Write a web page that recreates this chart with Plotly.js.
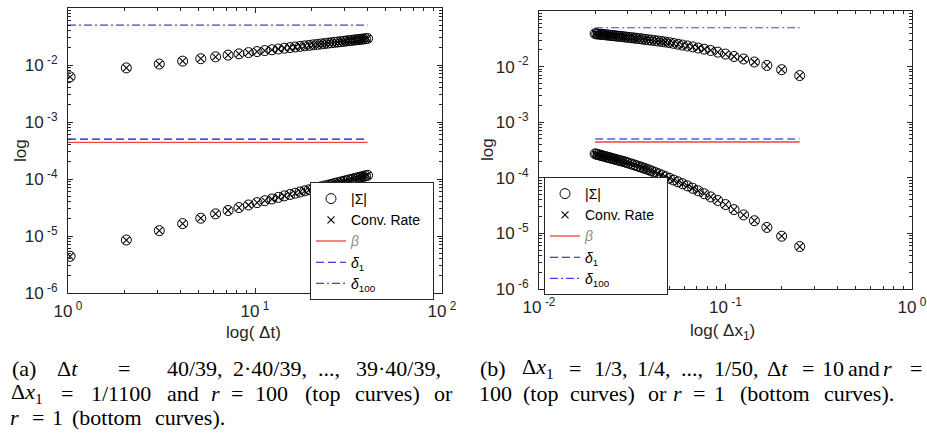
<!DOCTYPE html>
<html>
<head>
<meta charset="utf-8">
<script src="https://cdn.plot.ly/plotly-3.0.1.min.js"></script>
<style>body{margin:0;background:#fff}</style>
</head>
<body>
<div id="chart" style="width:927px;height:437px"></div>
<script>
// ---------------- data ----------------
// (a) Delta t = k*40/39, k = 1..39
const dtLeft = [1.026, 2.051, 3.077, 4.103, 5.128, 6.154, 7.179, 8.205, 9.231, 10.256,
  11.282, 12.308, 13.333, 14.359, 15.385, 16.41, 17.436, 18.462, 19.487, 20.513,
  21.538, 22.564, 23.59, 24.615, 25.641, 26.667, 27.692, 28.718, 29.744, 30.769,
  31.795, 32.821, 33.846, 34.872, 35.897, 36.923, 37.949, 38.974, 40.0];
const leftTop = [0.0062, 0.0089, 0.0104, 0.0117, 0.0129, 0.0139, 0.0149, 0.0157, 0.0165, 0.0172,
  0.0179, 0.0185, 0.0191, 0.0197, 0.0202, 0.0207, 0.0212, 0.0217, 0.0221, 0.0226,
  0.0230, 0.0234, 0.0238, 0.0242, 0.0246, 0.0250, 0.0253, 0.0257, 0.0260, 0.0264,
  0.0267, 0.0270, 0.0274, 0.0277, 0.0280, 0.0283, 0.0286, 0.0289, 0.0292];
const leftBottom = [4.4e-6, 8.5e-6, 1.24e-5, 1.65e-5, 2.05e-5, 2.45e-5, 2.8e-5, 3.15e-5, 3.5e-5, 3.85e-5,
  4.16e-5, 4.46e-5, 4.76e-5, 5.06e-5, 5.35e-5, 5.63e-5, 5.92e-5, 6.2e-5, 6.47e-5, 6.75e-5,
  7.02e-5, 7.29e-5, 7.56e-5, 7.82e-5, 8.09e-5, 8.35e-5, 8.61e-5, 8.86e-5, 9.12e-5, 9.37e-5,
  9.63e-5, 9.88e-5, 1.013e-4, 1.037e-4, 1.062e-4, 1.087e-4, 1.111e-4, 1.135e-4, 1.159e-4];
const leftLineX = [1, 40];

// (b) Delta x1 = 1/4 .. 1/50
const dxRight = [0.25, 0.2, 0.1667, 0.1429, 0.125, 0.1111, 0.1, 0.0909, 0.0833, 0.0769,
  0.0714, 0.0667, 0.0625, 0.0588, 0.0556, 0.0526, 0.05, 0.0476, 0.0455, 0.0435,
  0.0417, 0.04, 0.0385, 0.037, 0.0357, 0.0345, 0.0333, 0.0323, 0.0313, 0.0303,
  0.0294, 0.0286, 0.0278, 0.027, 0.0263, 0.0256, 0.025, 0.0244, 0.0238, 0.0233,
  0.0227, 0.0222, 0.0217, 0.0213, 0.0208, 0.0204, 0.02];
const rightTop = [0.0069, 0.0088, 0.0105, 0.0121, 0.0137, 0.0152, 0.0168, 0.0182, 0.0195, 0.0206,
  0.0216, 0.0226, 0.0235, 0.0244, 0.0253, 0.0262, 0.0270, 0.0277, 0.0283, 0.0289,
  0.0294, 0.0299, 0.0304, 0.0309, 0.0314, 0.0319, 0.0323, 0.0327, 0.0331, 0.0335,
  0.0339, 0.0343, 0.0347, 0.0350, 0.0354, 0.0357, 0.0360, 0.0363, 0.0367, 0.0370,
  0.0373, 0.0376, 0.0379, 0.0382, 0.0385, 0.0388, 0.0391];
const rightBottom = [5.8e-6, 8.9e-6, 1.28e-5, 1.69e-5, 2.15e-5, 2.68e-5, 3.3e-5, 3.91e-5, 4.53e-5, 5.17e-5,
  5.83e-5, 6.49e-5, 7.16e-5, 7.82e-5, 8.48e-5, 9.13e-5, 9.8e-5, 1.05e-4, 1.12e-4, 1.19e-4,
  1.26e-4, 1.33e-4, 1.40e-4, 1.47e-4, 1.53e-4, 1.59e-4, 1.65e-4, 1.71e-4, 1.77e-4, 1.83e-4,
  1.89e-4, 1.95e-4, 2.0e-4, 2.05e-4, 2.1e-4, 2.15e-4, 2.2e-4, 2.25e-4, 2.3e-4, 2.35e-4,
  2.4e-4, 2.45e-4, 2.5e-4, 2.55e-4, 2.6e-4, 2.65e-4, 2.7e-4];
const rightLineX = [0.02, 0.25];

// reference levels
const betaVal = 4.4e-4;
const delta1Val = 5.0e-4;
const delta100Val = 0.05;

// ---------------- styling helpers ----------------
const W = 927, H = 437;
const px = x => x / W;
const py = y => 1 - y / H;
const SANS = 'Liberation Sans, Arial, Helvetica, sans-serif';
const SERIF = 'Liberation Serif';
const AX = '#262626';

const nameSig = '|Σ|';
const nameConv = 'Conv. Rate\u00a0\u00a0';
const nameBeta = '<span style="color:#8c8c8c"><i>β</i></span>';
const nameD1 = '<i>δ</i><sub>1</sub>';
const nameD100 = '<i>δ</i><sub>100</sub>';

function buildTraces(xs, tops, bottoms, lineX, xa, ya, leg) {
  const tr = [];
  const circle = {symbol: 'circle-open', size: 10, color: 'black', line: {width: 1, color: 'black'}};
  const cross = {symbol: 'x-thin-open', size: 7, color: 'black', line: {width: 1.1, color: 'black'}};
  tr.push({type: 'scatter', mode: 'markers', x: xs, y: tops, xaxis: xa, yaxis: ya, legend: leg,
    name: nameSig, showlegend: true, marker: circle});
  tr.push({type: 'scatter', mode: 'markers', x: xs, y: tops, xaxis: xa, yaxis: ya, legend: leg,
    name: nameConv, showlegend: true, marker: cross});
  tr.push({type: 'scatter', mode: 'lines', x: lineX, y: [betaVal, betaVal], xaxis: xa, yaxis: ya, legend: leg,
    name: nameBeta, line: {color: '#f54040', width: 1.3}});
  tr.push({type: 'scatter', mode: 'lines', x: lineX, y: [delta1Val, delta1Val], xaxis: xa, yaxis: ya, legend: leg,
    name: nameD1, line: {color: '#0a0ad6', width: 1.1, dash: '8px,4px'}});
  tr.push({type: 'scatter', mode: 'lines', x: lineX, y: [delta100Val, delta100Val], xaxis: xa, yaxis: ya, legend: leg,
    name: nameD100, line: {color: '#4040ff', width: 1.1, dash: '8px,3px,2px,3px'}});
  tr.push({type: 'scatter', mode: 'markers', x: xs, y: bottoms, xaxis: xa, yaxis: ya, legend: leg,
    name: nameSig, showlegend: false, marker: circle});
  tr.push({type: 'scatter', mode: 'markers', x: xs, y: bottoms, xaxis: xa, yaxis: ya, legend: leg,
    name: nameConv, showlegend: false, marker: cross});
  return tr;
}

const traces = [].concat(
  buildTraces(dtLeft, leftTop, leftBottom, leftLineX, 'x', 'y', 'legend'),
  buildTraces(dxRight, rightTop, rightBottom, rightLineX, 'x2', 'y2', 'legend2')
);

function majors(lo, hi) {
  const v = [], t = [];
  for (let p = lo; p <= hi; p++) { v.push(Number('1e' + p)); t.push('10\u2009<sup>' + (p < 0 ? '-' + (-p) : p) + '</sup>'); }
  return [v, t];
}
function minors(lo, hi) {
  const v = [];
  for (let p = lo; p < hi; p++) for (let m = 2; m <= 9; m++) v.push(Number(m + 'e' + p));
  return v;
}
function logAxis(lo, hi, domain, anchor, standoff) {
  const [tv, tt] = majors(lo, hi);
  return {
    type: 'log', range: [lo - 1e-4, hi + 1e-4], domain: domain, anchor: anchor,
    tickmode: 'array', tickvals: tv, ticktext: tt, ticklabelstandoff: standoff,
    ticks: 'inside', ticklen: 5, tickwidth: 1, tickcolor: AX,
    minor: {tickmode: 'array', tickvals: minors(lo, hi), ticks: 'inside', ticklen: 3, tickwidth: 1, tickcolor: AX, showgrid: false},
    showline: true, linecolor: AX, linewidth: 1, mirror: 'ticks',
    showgrid: false, zeroline: false,
    tickfont: {family: SANS, size: 17, color: AX}
  };
}

const legendBase = {
  xanchor: 'left', yanchor: 'top', bgcolor: '#ffffff', bordercolor: AX, borderwidth: 1,
  font: {family: SANS, size: 14, color: '#000'}, itemwidth: 30, tracegroupgap: 0, traceorder: 'normal'
};

// ---------------- annotations ----------------
const ann = [];
function label(text, x, y, size, angle) {
  ann.push({text: text, xref: 'paper', yref: 'paper', x: px(x), y: py(y), xanchor: 'center', yanchor: 'middle',
    showarrow: false, textangle: angle || 0, font: {family: SANS, size: size, color: AX}});
}
label('log', 20, 151, 17, -90);
label('log', 487, 150, 17, -90);
label('log( Δt)', 253, 332, 17);
label('log( Δx<sub>1</sub>)', 722, 332, 17);

const capWords = [
  // [text, left px, right px, line centre y]
  ['(a)', 8, 39, 368], ['Δ<i>t</i>', 53, 82, 368], ['=', 115, 133, 368], ['40/39,', 168, 222, 368],
  ['2·40/39,', 225, 315, 368], ['...,', 318, 340, 368], ['39·40/39,', 343, 453, 368],
  ['Δ<i>x</i><sub>1</sub>', 8, 45, 393], ['=', 60, 74, 393], ['1/1100', 87, 155, 393], ['and', 166, 200, 393],
  ['<i>r</i>', 210, 220, 393], ['=', 230, 245, 393], ['100', 260, 283, 393], ['(top', 302, 343, 393],
  ['curves)', 355, 420, 393], ['or', 433, 453, 393],
  ['<i>r</i>', 8, 20, 417], ['=', 30, 46, 417], ['1', 53, 61, 417], ['(bottom', 68, 145, 417], ['curves).', 154, 226, 417],
  ['(b)', 480, 507, 368], ['Δ<i>x</i><sub>1</sub>', 518, 557, 368], ['=', 567, 582, 368], ['1/3,', 592, 630, 368],
  ['1/4,', 635, 673, 368], ['...,', 678, 705, 368], ['1/50,', 712, 760, 368], ['Δ<i>t</i>', 765, 790, 368],
  ['=', 800, 815, 368], ['10', 823, 843, 368], ['and', 850, 878, 368], ['<i>r</i>', 883, 891, 368], ['=', 907, 925, 368],
  ['100', 480, 510, 393], ['(top', 520, 560, 393], ['curves)', 570, 635, 393], ['or', 648, 667, 393],
  ['<i>r</i>', 673, 682, 393], ['=', 690, 707, 393], ['1', 715, 723, 393], ['(bottom', 735, 815, 393], ['curves).', 823, 895, 393]
];
capWords.forEach(([t, a, b, y]) => {
  ann.push({text: t, xref: 'paper', yref: 'paper', x: px((a + b) / 2), y: py(y), xanchor: 'center', yanchor: 'middle',
    showarrow: false, font: {family: SERIF, size: 22, color: '#000000'}});
});

const layout = {
  width: W, height: H, margin: {l: 0, r: 0, t: 0, b: 0},
  paper_bgcolor: '#fff', plot_bgcolor: '#fff', showlegend: true,
  xaxis: logAxis(0, 2, [px(68), px(442)], 'y', 3),
  yaxis: logAxis(-6, -1, [py(293), py(8)], 'x', 6),
  xaxis2: logAxis(-2, 0, [px(539), px(912)], 'y2', 3),
  yaxis2: logAxis(-6, -1, [py(289), py(11)], 'x2', 6),
  legend: Object.assign({x: px(310), y: py(182)}, legendBase),
  legend2: Object.assign({x: px(544), y: py(177)}, legendBase),
  annotations: ann
};

Plotly.newPlot('chart', traces, layout, {displayModeBar: false, staticPlot: true});
</script>
</body>
</html>
